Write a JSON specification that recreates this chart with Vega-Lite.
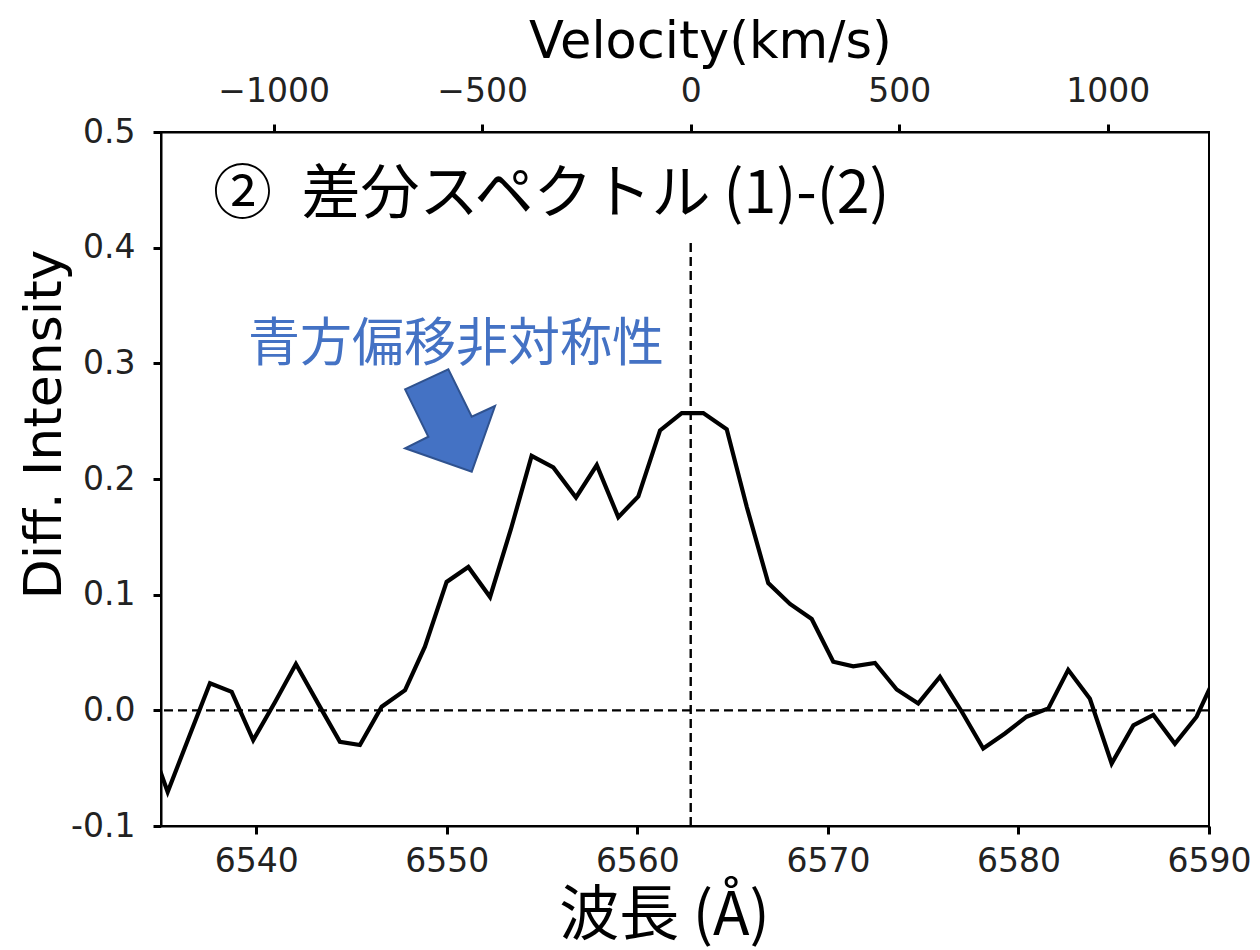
{
  "$schema": "https://vega.github.io/schema/vega-lite/v6.json",
  "autosize": {"type": "none"},
  "width": 1048,
  "height": 694,
  "padding": {"left": 161, "top": 132, "right": 51, "bottom": 124},
  "background": "white",
  "config": {
    "view": {"stroke": "black", "strokeWidth": 2},
    "axis": {"grid": false, "labelFlush": false, "labelOverlap": false, "labelBound": false}
  },
  "datasets": {
    "diffspec": [
      {"wl": 6534.21, "diff": -0.018},
      {"wl": 6535.35, "diff": -0.0706},
      {"wl": 6536.47, "diff": -0.023},
      {"wl": 6537.57, "diff": 0.0234},
      {"wl": 6538.71, "diff": 0.016},
      {"wl": 6539.84, "diff": -0.0257},
      {"wl": 6540.98, "diff": 0.007},
      {"wl": 6542.08, "diff": 0.04},
      {"wl": 6543.24, "diff": 0.006},
      {"wl": 6544.39, "diff": -0.0272},
      {"wl": 6545.44, "diff": -0.03},
      {"wl": 6546.58, "diff": 0.0031},
      {"wl": 6547.81, "diff": 0.0175},
      {"wl": 6548.85, "diff": 0.055},
      {"wl": 6549.99, "diff": 0.111},
      {"wl": 6551.13, "diff": 0.124},
      {"wl": 6552.27, "diff": 0.098},
      {"wl": 6553.37, "diff": 0.157},
      {"wl": 6554.45, "diff": 0.22},
      {"wl": 6555.59, "diff": 0.21},
      {"wl": 6556.78, "diff": 0.184},
      {"wl": 6557.87, "diff": 0.212},
      {"wl": 6559.0, "diff": 0.167},
      {"wl": 6560.05, "diff": 0.185},
      {"wl": 6561.19, "diff": 0.242},
      {"wl": 6562.33, "diff": 0.257},
      {"wl": 6563.46, "diff": 0.257},
      {"wl": 6564.69, "diff": 0.243},
      {"wl": 6565.74, "diff": 0.176},
      {"wl": 6566.87, "diff": 0.11},
      {"wl": 6568.01, "diff": 0.092},
      {"wl": 6569.15, "diff": 0.079},
      {"wl": 6570.28, "diff": 0.042},
      {"wl": 6571.33, "diff": 0.038},
      {"wl": 6572.47, "diff": 0.041},
      {"wl": 6573.61, "diff": 0.018},
      {"wl": 6574.74, "diff": 0.006},
      {"wl": 6575.88, "diff": 0.029},
      {"wl": 6577.02, "diff": -0.001},
      {"wl": 6578.15, "diff": -0.033},
      {"wl": 6579.29, "diff": -0.02},
      {"wl": 6580.43, "diff": -0.0055},
      {"wl": 6581.57, "diff": 0.0017},
      {"wl": 6582.61, "diff": 0.035},
      {"wl": 6583.75, "diff": 0.01},
      {"wl": 6584.89, "diff": -0.046},
      {"wl": 6586.03, "diff": -0.013},
      {"wl": 6587.08, "diff": -0.004},
      {"wl": 6588.21, "diff": -0.029},
      {"wl": 6589.35, "diff": -0.0055},
      {"wl": 6590.49, "diff": 0.035}
    ]
  },
  "layer": [
    {
      "layer": [
        {
          "data": {"values": [{"diff": 0}]},
          "mark": {"type": "rule", "color": "black", "strokeWidth": 2.4, "strokeDash": [9, 5]},
          "encoding": {"y": {"field": "diff", "type": "quantitative"}}
        },
        {
          "data": {"values": [{"wl": 6562.8, "diff": -0.1, "diff2": 0.405}]},
          "mark": {"type": "rule", "color": "black", "strokeWidth": 2.4, "strokeDash": [9, 5]},
          "encoding": {
            "x": {"field": "wl", "type": "quantitative"},
            "y": {"field": "diff", "type": "quantitative"},
            "y2": {"field": "diff2"}
          }
        },
        {
          "data": {"name": "diffspec"},
          "mark": {"type": "line", "color": "black", "strokeWidth": 4.2, "clip": true, "strokeJoin": "miter"},
          "encoding": {
            "x": {
              "field": "wl",
              "type": "quantitative",
              "scale": {"domain": [6535, 6590], "nice": false, "zero": false},
              "axis": {
                "values": [6540, 6550, 6560, 6570, 6580, 6590],
                "format": "d",
                "title": "波長 (Å)",
                "titleFont": "Noto Sans CJK JP",
                "titleFontSize": 60,
                "titleFontWeight": "normal",
                "titleColor": "black",
                "titleX": 503,
                "titleY": 90,
                "titleAlign": "center",
                "titleBaseline": "middle",
                "labelFont": "DejaVu Sans",
                "labelFontSize": 33,
                "labelColor": "#222222",
                "labelPadding": 11,
                "tickSize": 8,
                "tickWidth": 3,
                "tickColor": "black",
                "domainColor": "black",
                "domainWidth": 2
              }
            },
            "y": {
              "field": "diff",
              "type": "quantitative",
              "scale": {"domain": [-0.1, 0.5], "nice": false, "zero": false},
              "axis": {
                "values": [-0.1, 0, 0.1, 0.2, 0.3, 0.4, 0.5],
                "format": ".1f",
                "labelExpr": "replace(datum.label, '−', '-')",
                "title": "Diff. Intensity",
                "titleFont": "DejaVu Sans",
                "titleFontSize": 52,
                "titleFontWeight": "normal",
                "titleColor": "black",
                "titleAngle": -90,
                "titleX": -117,
                "titleY": 292,
                "titleAlign": "center",
                "titleBaseline": "middle",
                "labelFont": "DejaVu Sans",
                "labelFontSize": 33,
                "labelColor": "#222222",
                "labelPadding": 18,
                "tickSize": 8,
                "tickWidth": 3,
                "tickColor": "black",
                "domainColor": "black",
                "domainWidth": 2
              }
            }
          }
        },
        {
          "data": {"values": [{"wl": 6550.17, "diff": 0.251}]},
          "mark": {
            "type": "point",
            "filled": true,
            "fill": "#4472C4",
            "fillOpacity": 1,
            "stroke": "#2F528F",
            "strokeWidth": 2,
            "opacity": 1,
            "shape": "M-0.865,-0.590L-0.033,-0.975L0.417,-0.063L0.865,-0.269L0.417,0.994L-0.865,0.544L-0.417,0.321Z",
            "size": 10816
          },
          "encoding": {
            "x": {"field": "wl", "type": "quantitative"},
            "y": {"field": "diff", "type": "quantitative"}
          }
        },
        {
          "data": {"values": [{"wl": 6537.73, "diff": 0.4455, "label": "②\u2002差分スペクトル (1)-(2)"}]},
          "mark": {"type": "text", "align": "left", "baseline": "middle", "font": "Noto Sans CJK JP", "fontSize": 59, "color": "black"},
          "encoding": {
            "x": {"field": "wl", "type": "quantitative"},
            "y": {"field": "diff", "type": "quantitative"},
            "text": {"field": "label"}
          }
        },
        {
          "data": {"values": [{"wl": 6539.57, "diff": 0.316, "label": "青方偏移非対称性"}]},
          "mark": {"type": "text", "align": "left", "baseline": "middle", "font": "Noto Sans CJK JP", "fontSize": 52, "color": "#4472C4"},
          "encoding": {
            "x": {"field": "wl", "type": "quantitative"},
            "y": {"field": "diff", "type": "quantitative"},
            "text": {"field": "label"}
          }
        }
      ]
    },
    {
      "data": {"values": [{"vel": 0}]},
      "mark": {"type": "rule", "opacity": 0},
      "encoding": {
        "x": {
          "field": "vel",
          "type": "quantitative",
          "scale": {"domain": [-1269.9, 1242.5], "nice": false, "zero": false},
          "axis": {
            "orient": "top",
            "values": [-1000, -500, 0, 500, 1000],
            "format": "d",
            "title": "Velocity(km/s)",
            "titleFont": "DejaVu Sans",
            "titleFontSize": 51,
            "titleFontWeight": "normal",
            "titleColor": "black",
            "titleX": 549,
            "titleY": -75,
            "titleAlign": "center",
            "titleBaseline": "alphabetic",
            "labelFont": "DejaVu Sans",
            "labelFontSize": 33,
            "labelColor": "#222222",
            "labelPadding": 16,
            "tickSize": 8,
            "tickWidth": 3,
            "tickColor": "black",
            "domainColor": "black",
            "domainWidth": 2
          }
        }
      }
    }
  ],
  "resolve": {"scale": {"x": "independent"}}
}
